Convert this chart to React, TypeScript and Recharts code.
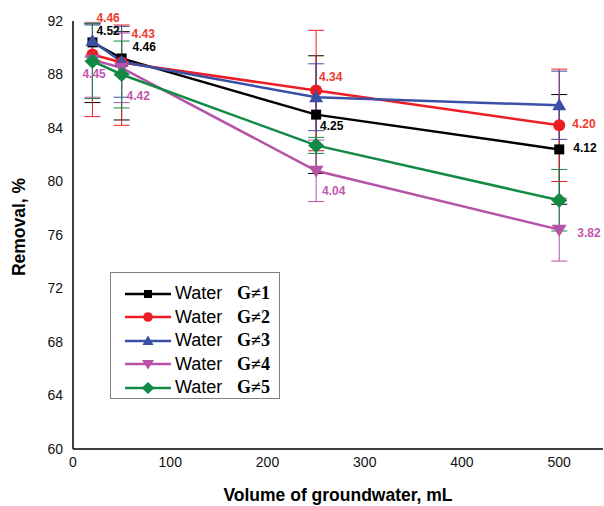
import {CartesianGrid, ErrorBar, LabelList, Legend, Line, LineChart, XAxis, YAxis} from 'recharts'
import {JSX} from 'react'

// volume of groundwater, mL
const volume = [20, 50, 250, 500]

// removal, %
const g1 = [90.4, 89.2, 85.0, 82.4]
const g2 = [89.5, 88.9, 86.8, 84.2]
const g3 = [90.5, 88.95, 86.3, 85.7]
const g4 = [89.1, 88.5, 80.8, 76.4]
const g5 = [89.0, 88.0, 82.7, 78.6]

// error bars [below, above]
const g1Err = [[4.5, 1.4], [4.6, 2.0], [4.4, 4.4], [4.1, 4.1]]
const g2Err = [[4.65, 2.3], [4.7, 2.8], [4.5, 4.5], [4.2, 4.2]]
const g3Err = [[1.2, 1.2], [2.65, 2.65], [2.5, 2.5], [2.55, 2.55]]
const g4Err = [[2.8, 2.8], [2.6, 2.6], [2.3, 2.3], [2.35, 2.35]]
const g5Err = [[2.8, 2.8], [2.5, 2.5], [0.6, 0.6], [2.3, 2.3]]

// point labels
const g1Labels = ['4.52', '4.46', '4.25', '4.12']
const g2Labels = ['4.46', '4.43', '4.34', '4.20']
const g4Labels = ['4.45', '4.42', '4.04', '3.82']

const xTicks = [0, 100, 200, 300, 400, 500]
const yTicks = [60, 64, 68, 72, 76, 80, 84, 88, 92]

const rows = volume.map((v, i) => ({
	volume: v,
	g1: g1[i], g1Err: g1Err[i],
	g2: g2[i], g2Err: g2Err[i],
	g3: g3[i], g3Err: g3Err[i],
	g4: g4[i], g4Err: g4Err[i],
	g5: g5[i], g5Err: g5Err[i],
}))

type Shape = 'square' | 'circle' | 'triangle' | 'triangleDown' | 'diamond'

// label offsets (text start / text middle relative to the point)
const g1LabelPos = [[4, -12], [11, -12], [4, 11], [14, -2]]
const g2LabelPos = [[4, -37], [10, -29], [3, -14], [13, -2]]
const g4LabelPos = [[-10, 14], [5, 28], [6, 20], [18, 3]]

const series = [
	{key: 'g1', name: '1', color: '#000000', shape: 'square' as Shape, labels: g1Labels, pos: g1LabelPos, labelColor: '#000000'},
	{key: 'g2', name: '2', color: '#ee1c24', shape: 'circle' as Shape, labels: g2Labels, pos: g2LabelPos, labelColor: '#ee3a2c'},
	{key: 'g3', name: '3', color: '#3a50a5', shape: 'triangle' as Shape, labels: null, pos: null, labelColor: ''},
	{key: 'g4', name: '4', color: '#b652a8', shape: 'triangleDown' as Shape, labels: g4Labels, pos: g4LabelPos, labelColor: '#c456b0'},
	{key: 'g5', name: '5', color: '#128a45', shape: 'diamond' as Shape, labels: null, pos: null, labelColor: ''},
]

const Marker = ({cx, cy, shape, color, s = 1}: {cx: number, cy: number, shape: Shape, color: string, s?: number}) => {
	if (shape === 'square') return <rect x={cx - 5 * s} y={cy - 5 * s} width={10 * s} height={10 * s} fill={color} />
	if (shape === 'circle') return <circle cx={cx} cy={cy} r={6 * s} fill={color} />
	if (shape === 'triangle') return <polygon points={`${cx},${cy - 7 * s} ${cx + 7 * s},${cy + 5 * s} ${cx - 7 * s},${cy + 5 * s}`} fill={color} />
	if (shape === 'triangleDown') return <polygon points={`${cx},${cy + 7 * s} ${cx + 7.5 * s},${cy - 5 * s} ${cx - 7.5 * s},${cy - 5 * s}`} fill={color} />
	return <polygon points={`${cx},${cy - 7.5 * s} ${cx + 8 * s},${cy} ${cx},${cy + 7.5 * s} ${cx - 8 * s},${cy}`} fill={color} />
}

const YTitle = (props: any) => {
	const {viewBox} = props
	const x = viewBox.x + 25
	const y = viewBox.y + viewBox.height / 2 - 8
	return (
		<text x={x} y={y} transform={`rotate(-90 ${x} ${y})`} textAnchor='middle'
			style={{fontFamily: 'Liberation Sans, Arial', fontSize: 17.5, fontWeight: 'bold', fill: '#000'}}>
			Removal, %
		</text>
	)
}

const XTitle = (props: any) => {
	const {viewBox} = props
	return (
		<text x={viewBox.x + viewBox.width / 2} y={viewBox.y + 52} textAnchor='middle'
			style={{fontFamily: 'Liberation Sans, Arial', fontSize: 17.5, fontWeight: 'bold', fill: '#000'}}>
			Volume of groundwater, mL
		</text>
	)
}

const LegendBox = () => (
	<div style={{border: '1px solid #808080', width: 170, height: 127, boxSizing: 'border-box', paddingTop: 9, background: '#fff'}}>
		{series.map((s) => (
			<div key={s.key} style={{display: 'flex', alignItems: 'center', height: 23.5}}>
				<svg width={52} height={20} style={{marginLeft: 12}}>
					<line x1={2} x2={48} y1={10} y2={10} stroke={s.color} strokeWidth={2.5} />
					<Marker cx={25} cy={10} shape={s.shape} color={s.color} s={0.8} />
				</svg>
				<span style={{fontFamily: 'Liberation Sans, Arial', fontSize: 18, color: '#000', width: 62}}>Water</span>
				<span style={{fontFamily: 'Liberation Serif, Times New Roman', fontSize: 18, fontWeight: 'bold', color: '#000'}}>G≠{s.name}</span>
			</div>
		))}
	</div>
)

const App = (): JSX.Element => {
	return (
		<div style={{position: 'absolute', left: 0, top: 0, background: '#fff'}}>
			<LineChart width={604} height={506} data={rows} margin={{top: 21, right: 1, bottom: 0, left: 0}}>
				<CartesianGrid stroke='none' />
				<XAxis type='number' dataKey='volume' domain={[0, 545]} ticks={xTicks} allowDataOverflow
					height={57} tickLine={false} tickSize={6} tickMargin={2}
					axisLine={{stroke: '#000', strokeWidth: 1.5}}
					tick={{fill: '#111', fontSize: 14, fontFamily: 'Liberation Sans, Arial'}}
					label={{content: XTitle}} />
				<YAxis type='number' domain={[60, 92]} ticks={yTicks} allowDataOverflow
					width={73} tickLine={false} tickSize={8} tickMargin={2}
					axisLine={{stroke: '#000', strokeWidth: 1.5}}
					tick={{fill: '#111', fontSize: 14, fontFamily: 'Liberation Sans, Arial'}}
					label={{content: YTitle}} />
				<Legend layout='vertical' align='center' verticalAlign='middle' content={LegendBox}
					wrapperStyle={{left: 110, top: 272, width: 170}} />
				{series.map((s) => (
					<Line key={s.key} type='linear' dataKey={s.key} stroke={s.color} strokeWidth={2.5}
						isAnimationActive={false}
						dot={(p: any) => <Marker key={`${s.key}-${p.index}`} cx={p.cx} cy={p.cy} shape={s.shape} color={s.color} />}
						activeDot={false}>
						<ErrorBar dataKey={`${s.key}Err`} direction='y' width={8} stroke={s.color} strokeWidth={1} />
						{s.labels && (
							<LabelList dataKey={s.key} content={(p: any) => (
								<text x={p.x + s.pos![p.index][0]} y={p.y + s.pos![p.index][1]} dy='0.35em'
									style={{fontFamily: 'Liberation Sans, Arial', fontSize: 12, fontWeight: 'bold', fill: s.labelColor}}>
									{s.labels![p.index]}
								</text>
							)} />
						)}
					</Line>
				))}
			</LineChart>
		</div>
	)
}

export default App
